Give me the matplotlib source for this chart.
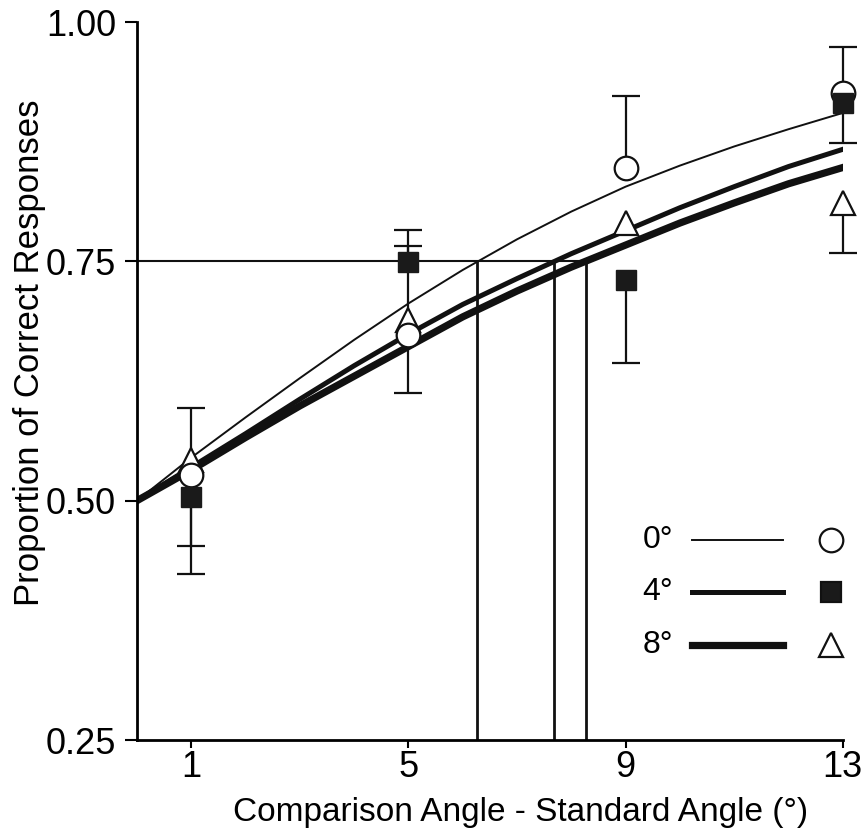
import matplotlib
matplotlib.use("Agg")
import matplotlib.pyplot as plt
import numpy as np

plt.rcParams['font.family'] = ['Liberation Sans', 'DejaVu Sans']

# fitted curves at whole-degree steps
fit_x = [0, 1, 2, 3, 4, 5, 6, 7, 8, 9, 10, 11, 12, 13]
fit_0 = [0.500, 0.545, 0.587, 0.628, 0.668, 0.706, 0.741, 0.773, 0.802, 0.828, 0.850, 0.870, 0.888, 0.905]
fit_4 = [0.500, 0.535, 0.570, 0.606, 0.641, 0.674, 0.705, 0.732, 0.758, 0.782, 0.806, 0.828, 0.849, 0.867]
fit_8 = [0.500, 0.532, 0.566, 0.599, 0.630, 0.661, 0.692, 0.719, 0.744, 0.767, 0.790, 0.811, 0.831, 0.848]

# observed proportions
angles = [1, 5, 9, 13]
obs_0 = [0.527, 0.673, 0.848, 0.926]
obs_4 = [0.504, 0.749, 0.730, 0.915]
obs_8 = [0.542, 0.689, 0.790, 0.811]

# one-sided error bars (lower, upper); 0 = not drawn
err_0_lo = [0.074, 0.061, 0.0, 0.0]
err_0_hi = [0.0, 0.0, 0.075, 0.048]
err_4_lo = [0.081, 0.0, 0.086, 0.041]
err_4_hi = [0.0, 0.034, 0.0, 0.0]
err_8_lo = [0.0, 0.0, 0.0, 0.052]
err_8_hi = [0.055, 0.077, 0.0, 0.0]

# 75% thresholds for 0°, 4°, 8°
thresholds = [6.26, 7.68, 8.27]

labels = ["0°", "4°", "8°"]
widths = [1.4, 3.6, 5.2]

fig = plt.figure(figsize=(8.67, 8.31), dpi=100)
ax = fig.add_axes([0.158, 0.1095, 0.814, 0.864])

ax.plot(fit_x, fit_0, color="#111111", lw=widths[0], zorder=2)
ax.plot(fit_x, fit_4, color="#111111", lw=widths[1], zorder=2)
ax.plot(fit_x, fit_8, color="#111111", lw=widths[2], zorder=2)

# threshold lines
ax.plot([0, max(thresholds)], [0.75, 0.75], color="#111111", lw=1.5, zorder=1)
for t in thresholds:
    ax.plot([t, t], [0.25, 0.75], color="#111111", lw=2, zorder=1)


def one_sided(xs, ys, lo, hi):
    xs, ys, lo, hi = map(np.asarray, (xs, ys, lo, hi))
    for err, sign in ((lo, -1), (hi, 1)):
        m = err > 0
        if not m.any():
            continue
        e = [err[m], np.zeros(m.sum())] if sign < 0 else [np.zeros(m.sum()), err[m]]
        eb = ax.errorbar(xs[m], ys[m], yerr=e, ls="none", ecolor="#111111", elinewidth=1.6,
                         capsize=10, capthick=1.6, zorder=3)
        for c in eb[1]:
            c.set_clip_on(False)
        for c in eb[2]:
            c.set_clip_on(False)
        # drop the caps that sit on the marker itself
        caps = eb[1]
        if sign < 0:
            caps[1].set_visible(False)
        else:
            caps[0].set_visible(False)


one_sided(angles, obs_0, err_0_lo, err_0_hi)
one_sided(angles, obs_4, err_4_lo, err_4_hi)
one_sided(angles, obs_8, err_8_lo, err_8_hi)

ax.plot(angles, obs_8, ls="none", marker="^", ms=17, mfc="white", mec="#111111", mew=1.6, zorder=4, clip_on=False)
ax.plot(angles, obs_0, ls="none", marker="o", ms=17, mfc="white", mec="#111111", mew=1.6, zorder=5, clip_on=False)
ax.plot(angles, obs_4, ls="none", marker="s", ms=14, mfc="#1a1a1a", mec="#1a1a1a", mew=1, zorder=6, clip_on=False)

# legend drawn by hand: label, line, marker
rows = [0.279, 0.206, 0.133]
markers = [dict(marker="o", ms=17, mfc="white"), dict(marker="s", ms=14, mfc="#1a1a1a"),
           dict(marker="^", ms=17, mfc="white")]
for lab, w, yy, mk in zip(labels, widths, rows, markers):
    ax.text(0.76, yy, lab, transform=ax.transAxes, ha="right", va="center", fontsize=23)
    ax.plot([0.787, 0.916], [yy, yy], transform=ax.transAxes, color="#111111", lw=w, clip_on=False)
    ax.plot([0.983], [yy], transform=ax.transAxes, ls="none", mec="#111111", mew=1.6, clip_on=False, **mk)

ax.set_xlim(0, 13)
ax.set_ylim(0.25, 1.0)
ax.set_xticks(angles)
ax.set_yticks([0.25, 0.50, 0.75, 1.00])
ax.set_yticklabels(["0.25", "0.50", "0.75", "1.00"])
ax.spines["top"].set_visible(False)
ax.spines["right"].set_visible(False)
for s in ["left", "bottom"]:
    ax.spines[s].set_linewidth(2)
ax.tick_params(axis="y", direction="out", length=9, width=1.5, labelsize=26, pad=6)
ax.tick_params(axis="x", direction="out", length=6, width=1.5, labelsize=26, pad=1)

ax.set_xlabel("Comparison Angle - Standard Angle (°)", fontsize=24)
ax.set_ylabel("Proportion of Correct Responses", fontsize=25)
ax.xaxis.set_label_coords(0.544, -0.101)
ax.yaxis.set_label_coords(-0.152, 0.539)
ax.yaxis.label.set_va("center")
ax.xaxis.label.set_va("center")

fig.savefig("out.png", dpi=100)
